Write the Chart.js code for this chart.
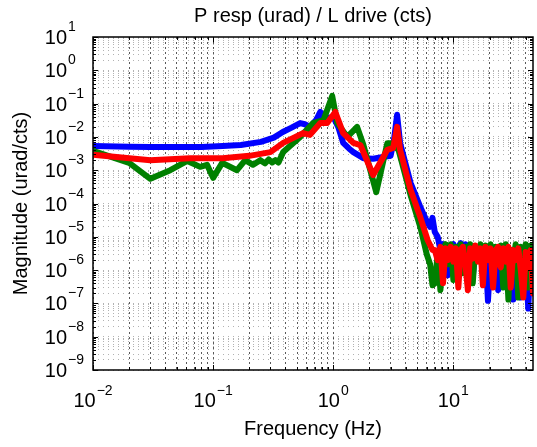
<!DOCTYPE html>
<html>
<head>
<meta charset="utf-8">
<script src="https://cdn.jsdelivr.net/npm/chart.js@4.4.1/dist/chart.umd.min.js"></script>
<style>
  html, body { margin: 0; padding: 0; background: #fff; }
  canvas { display: block; }
</style>
</head>
<body>
<canvas id="respChart" width="537" height="447" style="width:537px;height:447px"></canvas>
<script>
// axis limits
const xMin = 0.01, xMax = 46;
const yMin = 1e-9, yMax = 10;

// blue trace, below the noise floor
const blueHz = [0.01, 0.02, 0.03, 0.05, 0.08, 0.12, 0.17, 0.25, 0.32, 0.38, 0.45, 0.53, 0.58, 0.64, 0.72, 0.78, 0.84, 0.9, 1.0, 1.1, 1.21, 1.35, 1.47, 1.78, 2.15, 2.6, 3.0, 3.2, 3.4, 3.6, 4.4, 5.3, 6.1, 6.4, 6.7];
const blueMag = [5.3e-3, 5.1e-3, 5.0e-3, 5.0e-3, 5.0e-3, 5.3e-3, 5.7e-3, 7.1e-3, 9.5e-3, 1.4e-2, 1.9e-2, 2.6e-2, 2.4e-2, 2.0e-2, 3.2e-2, 5.6e-2, 4.2e-2, 3.7e-2, 4.0e-2, 2.0e-2, 6.6e-3, 4.5e-3, 3.5e-3, 2.3e-3, 2.2e-3, 2.5e-3, 2.7e-3, 8e-3, 4.6e-2, 6.6e-3, 4.2e-4, 7.9e-5, 2.6e-5, 2.0e-5, 3.7e-5];

// green trace
const greenHz = [0.01, 0.02, 0.03, 0.044, 0.061, 0.078, 0.089, 0.1, 0.119, 0.158, 0.185, 0.215, 0.247, 0.27, 0.29, 0.31, 0.33, 0.35, 0.383, 0.53, 0.68, 0.83, 0.98, 1.08, 1.31, 1.58, 1.78, 2.28, 2.82, 3.0, 3.3, 3.5, 4.4, 5.3, 6.0, 6.4, 6.7];
const greenMag = [3.8e-3, 1.65e-3, 5.5e-4, 1.0e-3, 1.9e-3, 1.26e-3, 1.45e-3, 5.9e-4, 1.66e-3, 1.0e-3, 2.0e-3, 1.45e-3, 2.0e-3, 1.6e-3, 2.1e-3, 1.7e-3, 2.0e-3, 1.7e-3, 3.5e-3, 1.0e-2, 2.6e-2, 3.2e-2, 1.7e-1, 2.6e-2, 1.0e-2, 2.0e-2, 5.8e-3, 2.2e-4, 6.5e-3, 6.5e-3, 5e-3, 4e-3, 1.8e-4, 2e-5, 3e-6, 1.5e-6, 3.5e-7];

// red trace
const redHz = [0.01, 0.03, 0.064, 0.12, 0.2, 0.3, 0.383, 0.56, 0.64, 0.78, 0.89, 1.04, 1.21, 1.47, 1.68, 2.15, 2.82, 3.16, 3.4, 3.6, 4.4, 5.3, 6.1, 6.7];
const redMag = [2.9e-3, 2.0e-3, 2.3e-3, 2.3e-3, 2.7e-3, 3.5e-3, 6.6e-3, 1.3e-2, 1.15e-2, 2.6e-2, 2.6e-2, 5.6e-2, 1.3e-2, 6.6e-3, 5.7e-3, 7.2e-4, 4.1e-3, 4.7e-3, 2e-2, 4.1e-3, 2.6e-4, 3.9e-5, 8e-6, 4e-6];

// noise floor above ~7 Hz (same frequencies for all three)
const noiseHz = [7.0, 7.4, 7.8, 8.2, 8.6, 9.0, 9.5, 10, 10.5, 11, 11.5, 12, 12.6, 13.2, 13.8, 14.5, 15.2, 16, 16.8, 17.6, 18.5, 19.4, 20.4, 21.4, 22.5, 23.6, 24.8, 26, 27.3, 28.7, 30, 31.5, 33, 34.7, 36.4, 38.2, 40, 42, 44, 46];
const blueNoise = [1.4e-5, 1e-5, 4e-6, 6e-6, 1.2e-6, 7e-7, 5e-6, 6e-6, 2e-6, 5e-6, 6.5e-6, 2e-6, 6e-6, 1.5e-6, 5e-6, 6e-7, 4e-6, 2e-6, 5e-6, 1e-6, 4e-6, 1.2e-7, 3e-6, 1e-6, 4e-6, 2.5e-7, 3e-6, 1e-6, 5e-6, 1.5e-6, 4e-6, 1.3e-7, 2e-6, 4e-6, 1.5e-7, 2e-6, 2e-6, 7e-8, 3e-6, 1e-6];
const greenNoise = [4e-7, 3e-6, 2.5e-7, 4e-6, 6e-6, 1.5e-6, 6e-6, 5e-7, 5e-6, 2e-6, 6e-6, 8e-7, 5e-6, 3e-6, 6e-6, 4e-7, 5e-6, 2.5e-6, 6e-6, 1e-6, 5.5e-6, 2e-6, 6e-6, 5e-7, 5e-6, 1.5e-6, 5.5e-6, 3e-7, 6e-6, 1.3e-7, 4e-6, 2e-6, 6e-6, 1.5e-7, 5e-6, 5e-7, 6e-6, 3e-7, 5.5e-6, 2e-6];
const redNoise = [4e-6, 2e-6, 5e-6, 4e-7, 4.5e-6, 2e-6, 5e-6, 1.8e-6, 4.5e-6, 3e-7, 4e-6, 5e-6, 1.5e-6, 2.5e-7, 4.5e-6, 2.2e-6, 5.5e-6, 1.8e-6, 4.5e-6, 3.5e-7, 5e-6, 2e-6, 4.5e-6, 3e-7, 4e-6, 5e-6, 1.2e-6, 4.5e-6, 1.8e-6, 5e-6, 3e-7, 4e-6, 2e-6, 4.5e-6, 1e-6, 1.5e-7, 3.5e-6, 1.2e-6, 4e-6, 2e-7];

const titleText = "P resp (urad) / L drive (cts)";
const xTitle = "Frequency (Hz)";
const yTitle = "Magnitude (urad/cts)";

const FONT = '"Liberation Sans", Arial, Helvetica, sans-serif';

const toPoints = (hz, mag) => hz.map((f, i) => ({ x: f, y: mag[i] }));

// 1..9 x 10^k between min and max, for minor grid lines
function logTicks(min, max) {
  const out = [];
  for (let e = Math.floor(Math.log10(min)); e <= Math.ceil(Math.log10(max)); e++) {
    for (let m = 1; m < 10; m++) {
      const v = m * Math.pow(10, e);
      if (v >= min * 0.999 && v <= max * 1.001) out.push({ value: v });
    }
  }
  return out;
}

function decadeOf(v) {
  const l = Math.log10(v);
  const r = Math.round(l);
  return Math.abs(l - r) < 1e-6 ? r : null;
}

function expText(e) {
  return e < 0 ? "\u2212" + Math.abs(e) : String(e);
}

const decorations = {
  id: "decorations",
  afterDraw(chart) {
    const { ctx, chartArea: a, scales } = chart;
    const x = scales.x, y = scales.y;
    ctx.save();

    // tick marks inside the box
    ctx.strokeStyle = "#000";
    ctx.lineWidth = 1;
    ctx.beginPath();
    x.ticks.forEach((t) => {
      const px = Math.round(x.getPixelForValue(t.value)) + 0.5;
      const len = decadeOf(t.value) !== null ? 5 : 3;
      ctx.moveTo(px, a.bottom); ctx.lineTo(px, a.bottom - len);
      ctx.moveTo(px, a.top); ctx.lineTo(px, a.top + len);
    });
    y.ticks.forEach((t) => {
      const py = Math.round(y.getPixelForValue(t.value)) + 0.5;
      const len = decadeOf(t.value) !== null ? 5 : 3;
      ctx.moveTo(a.left, py); ctx.lineTo(a.left + len, py);
      ctx.moveTo(a.right, py); ctx.lineTo(a.right - len, py);
    });
    ctx.stroke();

    // box
    ctx.lineWidth = 1.5;
    ctx.strokeRect(a.left, a.top, a.right - a.left, a.bottom - a.top);

    ctx.fillStyle = "#000";
    ctx.textBaseline = "alphabetic";

    // x tick labels 10^k
    x.ticks.forEach((t) => {
      const e = decadeOf(t.value);
      if (e === null) return;
      const px = x.getPixelForValue(t.value);
      ctx.font = "20px " + FONT;
      const w1 = ctx.measureText("10").width;
      ctx.font = "14px " + FONT;
      const w2 = ctx.measureText(expText(e)).width;
      const start = px - (w1 + w2 + 1) / 2;
      ctx.textAlign = "left";
      ctx.font = "20px " + FONT;
      ctx.fillText("10", start, 407);
      ctx.font = "14px " + FONT;
      ctx.fillText(expText(e), start + w1 + 1, 395);
    });

    // y tick labels 10^k
    y.ticks.forEach((t) => {
      const e = decadeOf(t.value);
      if (e === null) return;
      const py = y.getPixelForValue(t.value);
      ctx.font = "20px " + FONT;
      ctx.textAlign = "right";
      ctx.fillText("10", 67, py + 7);
      ctx.font = "14px " + FONT;
      ctx.textAlign = "left";
      ctx.fillText(expText(e), 68, py - 6);
    });

    // titles
    ctx.font = "20px " + FONT;
    ctx.textAlign = "center";
    const cx = (a.left + a.right) / 2;
    ctx.fillText(titleText, cx, 22);
    ctx.fillText(xTitle, cx, 435);
    ctx.translate(27, (a.top + a.bottom) / 2);
    ctx.rotate(-Math.PI / 2);
    ctx.fillText(yTitle, 0, 0);

    ctx.restore();
  },
};

new Chart(document.getElementById("respChart"), {
  type: "line",
  data: {
    datasets: [
      {
        label: "blue",
        data: toPoints(blueHz.concat(noiseHz), blueMag.concat(blueNoise)),
        borderColor: "#0000ff",
        order: 3,
      },
      {
        label: "green",
        data: toPoints(greenHz.concat(noiseHz), greenMag.concat(greenNoise)),
        borderColor: "#008000",
        order: 2,
      },
      {
        label: "red",
        data: toPoints(redHz.concat(noiseHz), redMag.concat(redNoise)),
        borderColor: "#ff0000",
        order: 1,
      },
    ],
  },
  options: {
    responsive: false,
    devicePixelRatio: 1,
    animation: false,
    layout: { padding: { top: 37, right: 4, left: 0, bottom: 0 } },
    elements: {
      line: { borderWidth: 6, tension: 0, borderJoinStyle: "round", borderCapStyle: "round", fill: false },
      point: { radius: 0 },
    },
    plugins: { legend: { display: false }, tooltip: { enabled: false }, title: { display: false } },
    scales: {
      x: {
        type: "logarithmic",
        min: xMin,
        max: xMax,
        grid: { color: "rgba(0,0,0,0.65)", lineWidth: 1, drawTicks: false },
        border: { display: false, dash: [2, 3] },
        ticks: { display: false },
        afterBuildTicks: (s) => { s.ticks = logTicks(xMin, xMax); },
        afterFit: (s) => { s.height = 77; },
      },
      y: {
        type: "logarithmic",
        min: yMin,
        max: yMax,
        grid: { color: "rgba(0,0,0,0.3)", lineWidth: 1, drawTicks: false },
        border: { display: false, dash: [1, 4] },
        ticks: { display: false },
        afterBuildTicks: (s) => { s.ticks = logTicks(yMin, yMax); },
        afterFit: (s) => { s.width = 93; },
      },
    },
  },
  plugins: [decorations],
});
</script>
</body>
</html>
